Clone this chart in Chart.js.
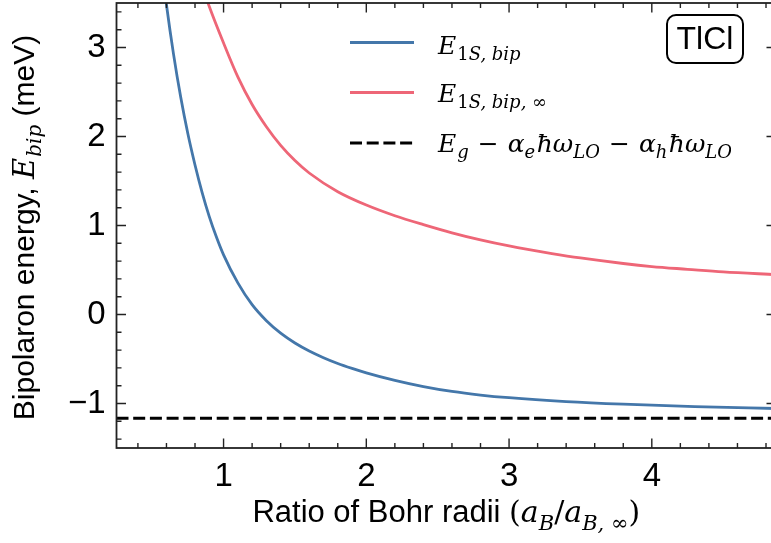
<!DOCTYPE html>
<html>
<head>
<meta charset="utf-8">
<script src="https://cdn.jsdelivr.net/npm/chart.js@4.4.0/dist/chart.umd.min.js"></script>
<style>
  html, body { margin: 0; padding: 0; background: #fff; overflow: hidden; }
  #wrap { width: 780px; height: 543px; }
</style>
</head>
<body>
<div id="wrap"><canvas id="chart" width="780" height="543"></canvas></div>
<script>
// Data
const ratioBlue = [0.58, 0.60, 0.65, 0.70, 0.75, 0.80, 0.85, 0.90, 0.95, 1.00, 1.10, 1.20, 1.30, 1.40, 1.50, 1.60, 1.70, 1.80, 1.90, 2.00, 2.20, 2.40, 2.60, 2.80, 3.00, 3.40, 3.80, 4.30, 4.87];
const energyBip = [3.74, 3.48, 2.92, 2.44, 2.03, 1.68, 1.37, 1.10, 0.87, 0.67, 0.355, 0.11, -0.07, -0.21, -0.32, -0.41, -0.485, -0.55, -0.605, -0.655, -0.74, -0.81, -0.865, -0.905, -0.935, -0.978, -1.008, -1.036, -1.056];

const ratioRed = [0.87, 0.90, 1.00, 1.10, 1.20, 1.30, 1.40, 1.50, 1.60, 1.80, 2.00, 2.20, 2.40, 2.60, 2.80, 3.00, 3.30, 3.50, 3.80, 4.00, 4.25, 4.50, 4.87];
const energyBipInf = [3.60, 3.46, 3.05, 2.67, 2.36, 2.11, 1.90, 1.73, 1.59, 1.38, 1.23, 1.11, 1.01, 0.918, 0.838, 0.77, 0.685, 0.635, 0.573, 0.539, 0.508, 0.478, 0.449];

const ratioLimit = [0.25, 4.87];
const energyLimit = [-1.165, -1.165];

const xTicks = [1, 2, 3, 4];
const yTicks = [-1, 0, 1, 2, 3];

const BLUE = '#4477AA';
const RED = '#EE6677';
const SANS = '"Liberation Sans", Arial, sans-serif';
const MATH = '"DejaVu Serif", "Liberation Serif", serif';

const pts = (xs, ys) => xs.map((x, i) => ({ x: x, y: ys[i] }));

// text pieces: roman / italic math or plain sans, with subscripts
function pieceFont(p) {
    const size = p.sub ? Math.round(p.size * 0.7) : p.size;
    if (p.sans) return size + 'px ' + SANS;
    return (p.it ? 'italic ' : '') + size + 'px ' + MATH;
}
function runWidth(ctx, pieces) {
    let w = 0;
    pieces.forEach(p => {
        ctx.font = pieceFont(p);
        w += ctx.measureText(p.t).width + (p.gap || 0);
    });
    return w;
}
function drawRun(ctx, x, y, pieces) {
    pieces.forEach(p => {
        ctx.font = pieceFont(p);
        const dy = p.sub ? p.size * 0.25 : 0;
        ctx.fillText(p.t, x, y + dy);
        x += ctx.measureText(p.t).width + (p.gap || 0);
    });
    return x;
}

const decorations = {
    id: 'decorations',
    afterDatasetsDraw(chart) {
        const ctx = chart.ctx;
        const a = chart.chartArea;
        const xs = chart.scales.x, ys = chart.scales.y;
        ctx.save();
        ctx.strokeStyle = '#222';
        ctx.fillStyle = '#000';

        // inward ticks on all four sides
        ctx.lineWidth = 1.4;
        ctx.beginPath();
        for (let i = 2; i <= 24; i++) {
            const px = xs.getPixelForValue(i / 5);
            const len = i % 5 === 0 ? 9.5 : 5;
            ctx.moveTo(px, a.bottom); ctx.lineTo(px, a.bottom - len);
            ctx.moveTo(px, a.top); ctx.lineTo(px, a.top + len);
        }
        for (let i = -7; i <= 17; i++) {
            const py = ys.getPixelForValue(i / 5);
            const len = i % 5 === 0 ? 9.5 : 5;
            ctx.moveTo(a.left, py); ctx.lineTo(a.left + len, py);
            ctx.moveTo(a.right, py); ctx.lineTo(a.right - len, py);
        }
        ctx.stroke();

        // frame
        ctx.lineWidth = 1.8;
        ctx.strokeRect(a.left, a.top, a.right - a.left, a.bottom - a.top);

        // legend
        const lx0 = 350, lx1 = 414;
        const rows = [
            { y: 42.5, color: BLUE, dash: [] },
            { y: 92.5, color: RED, dash: [] },
            { y: 143, color: '#000', dash: [12, 4.7] }
        ];
        rows.forEach(r => {
            ctx.beginPath();
            ctx.strokeStyle = r.color;
            ctx.lineWidth = r.dash.length ? 3 : 2.8;
            ctx.setLineDash(r.dash);
            ctx.moveTo(lx0, r.y); ctx.lineTo(lx1, r.y);
            ctx.stroke();
        });
        ctx.setLineDash([]);
        ctx.textBaseline = 'alphabetic';
        ctx.textAlign = 'left';
        const L = 25;
        drawRun(ctx, 438, 53.5, [
            { t: 'E', it: true, size: L, gap: 1 },
            { t: '1', sub: true, size: L },
            { t: 'S, bip', it: true, sub: true, size: L }
        ]);
        drawRun(ctx, 438, 102, [
            { t: 'E', it: true, size: L, gap: 1 },
            { t: '1', sub: true, size: L },
            { t: 'S, bip, \u221E', it: true, sub: true, size: L }
        ]);
        drawRun(ctx, 438, 152, [
            { t: 'E', it: true, size: L, gap: 1 },
            { t: 'g', it: true, sub: true, size: L, gap: 9 },
            { t: '\u2212', size: L, gap: 9 },
            { t: '\u03B1', it: true, size: L },
            { t: 'e', it: true, sub: true, size: L, gap: 1.5 },
            { t: '\u0127\u03C9', it: true, size: L },
            { t: 'LO', it: true, sub: true, size: L, gap: 9 },
            { t: '\u2212', size: L, gap: 9 },
            { t: '\u03B1', it: true, size: L },
            { t: 'h', it: true, sub: true, size: L, gap: 1.5 },
            { t: '\u0127\u03C9', it: true, size: L },
            { t: 'LO', it: true, sub: true, size: L }
        ]);

        // material label box
        ctx.strokeStyle = '#000';
        ctx.lineWidth = 2;
        ctx.beginPath();
        ctx.roundRect(667, 15, 76, 48, 9);
        ctx.stroke();
        ctx.font = '32px ' + SANS;
        ctx.textAlign = 'center';
        ctx.textBaseline = 'middle';
        ctx.fillText('TlCl', 705, 40);
        ctx.restore();
    },
    afterDraw(chart) {
        const ctx = chart.ctx;
        const a = chart.chartArea;
        ctx.save();
        ctx.fillStyle = '#000';
        ctx.textAlign = 'left';
        ctx.textBaseline = 'alphabetic';
        const S = 31, M = 30;
        // x title, centred on the axes
        const xTitle = [
            { t: 'Ratio of Bohr radii ', sans: true, size: S },
            { t: '(', size: M },
            { t: 'a', it: true, size: M },
            { t: 'B', it: true, sub: true, size: M },
            { t: '/', size: M },
            { t: 'a', it: true, size: M },
            { t: 'B, \u221E', it: true, sub: true, size: M },
            { t: ')', size: M }
        ];
        const w = runWidth(ctx, xTitle);
        drawRun(ctx, (a.left + a.right) / 2 - w / 2, 522, xTitle);
        // y title
        const yTitle = [
            { t: 'Bipolaron energy, ', sans: true, size: 30 },
            { t: 'E', it: true, size: 29, gap: 1 },
            { t: 'bip', it: true, sub: true, size: 29 },
            { t: ' (meV)', sans: true, size: 30 }
        ];
        const h = runWidth(ctx, yTitle);
        ctx.translate(33.5, (a.top + a.bottom) / 2 + h / 2 + 2);
        ctx.rotate(-Math.PI / 2);
        drawRun(ctx, 0, 0, yTitle);
        ctx.restore();
    }
};

new Chart(document.getElementById('chart'), {
    type: 'line',
    data: {
        datasets: [
            {
                label: 'E1S,bip',
                data: pts(ratioBlue, energyBip),
                borderColor: BLUE,
                borderWidth: 2.8,
                pointRadius: 0,
                cubicInterpolationMode: 'monotone'
            },
            {
                label: 'E1S,bip,inf',
                data: pts(ratioRed, energyBipInf),
                borderColor: RED,
                borderWidth: 2.8,
                pointRadius: 0,
                cubicInterpolationMode: 'monotone'
            },
            {
                label: 'Eg - ae hw - ah hw',
                data: pts(ratioLimit, energyLimit),
                borderColor: '#000',
                borderWidth: 3,
                borderDash: [12, 4.7],
                pointRadius: 0
            }
        ]
    },
    options: {
        responsive: false,
        animation: false,
        devicePixelRatio: 1,
        layout: { padding: { top: 3, right: 4, left: 0, bottom: 0 } },
        plugins: {
            legend: { display: false },
            tooltip: { enabled: false }
        },
        scales: {
            x: {
                type: 'linear',
                min: 0.25,
                max: 4.87,
                grid: { display: false, drawTicks: false, tickLength: 0 },
                border: { display: false },
                afterBuildTicks: s => { s.ticks = xTicks.map(v => ({ value: v })); },
                afterFit: s => { s.height = 95; s.paddingLeft = 0; s.paddingRight = 0; },
                ticks: {
                    color: '#000',
                    padding: 9,
                    maxRotation: 0,
                    font: { family: SANS, size: 33 },
                    callback: v => String(v)
                }
            },
            y: {
                type: 'linear',
                min: -1.5,
                max: 3.5,
                grid: { display: false, drawTicks: false, tickLength: 0 },
                border: { display: false },
                afterBuildTicks: s => { s.ticks = yTicks.map(v => ({ value: v })); },
                afterFit: s => { s.width = 116.5; s.paddingTop = 0; s.paddingBottom = 0; },
                ticks: {
                    color: '#000',
                    padding: 11,
                    font: { family: SANS, size: 33 },
                    callback: v => (v < 0 ? '\u2212' + Math.abs(v) : String(v))
                }
            }
        }
    },
    plugins: [decorations]
});
</script>
</body>
</html>
